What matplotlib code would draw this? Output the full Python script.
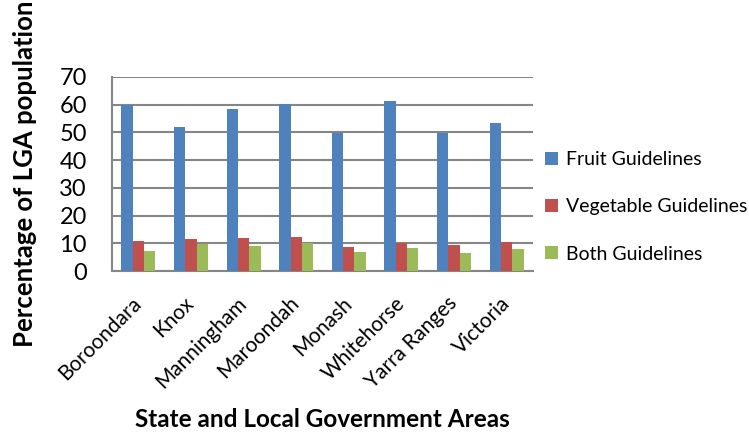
import numpy as np
import matplotlib
matplotlib.use('Agg')
from matplotlib import pyplot as plt

plt.rcParams['font.family'] = ['Lato', 'DejaVu Sans']

# data
areas = ['Boroondara', 'Knox', 'Manningham', 'Maroondah', 'Monash',
         'Whitehorse', 'Yarra Ranges', 'Victoria']
fruit = [60.0, 52.0, 58.4, 60.1, 49.8, 61.4, 49.8, 53.3]
vegetable = [11.0, 11.7, 11.8, 12.4, 8.6, 10.0, 9.4, 10.4]
both = [7.1, 9.8, 8.9, 10.0, 6.9, 8.3, 6.4, 7.8]
yticks = [0, 10, 20, 30, 40, 50, 60, 70]

fig = plt.figure(figsize=(7.49, 4.36), dpi=100)
ax = fig.add_axes([0.1495, 0.3784, 0.5621, 0.445])

x = np.arange(len(areas))
w = 0.215
ax.bar(x - w, fruit, w, color='#4F81BD', label='Fruit Guidelines', zorder=3)
ax.bar(x, vegetable, w, color='#C0504D', label='Vegetable Guidelines', zorder=3)
ax.bar(x + w, both, w, color='#9BBB59', label='Both Guidelines', zorder=3)

ax.set_xlim(-0.5, len(areas) - 0.5)
ax.set_ylim(0, 70)
ax.set_yticks(yticks)
ax.yaxis.grid(True, color='#868686', linewidth=1.5, zorder=0)
ax.set_xticks(x)
ax.set_xticklabels(areas, rotation=45, ha='right', va='center',
                   rotation_mode='anchor', fontsize=15)
ax.tick_params(axis='x', length=0, pad=21)
ax.tick_params(axis='y', length=0, pad=18, labelsize=17)

for s in ['top', 'right']:
    ax.spines[s].set_visible(False)
for s in ['left', 'bottom']:
    ax.spines[s].set_color('#868686')
    ax.spines[s].set_linewidth(1.5)

ax.set_ylabel('Percentage of LGA population', fontsize=18.5, fontweight='bold', labelpad=16)
fig.text(0.43, 0.012, 'State and Local Government Areas', fontsize=17.5,
         fontweight='bold', ha='center', va='bottom')

ax.legend(loc='center left', bbox_to_anchor=(1.01, 0.33), frameon=False,
          fontsize=14, handlelength=0.65, handleheight=0.65, handletextpad=0.45,
          labelspacing=1.55, borderaxespad=0)

fig.savefig('out.png', dpi=100)
